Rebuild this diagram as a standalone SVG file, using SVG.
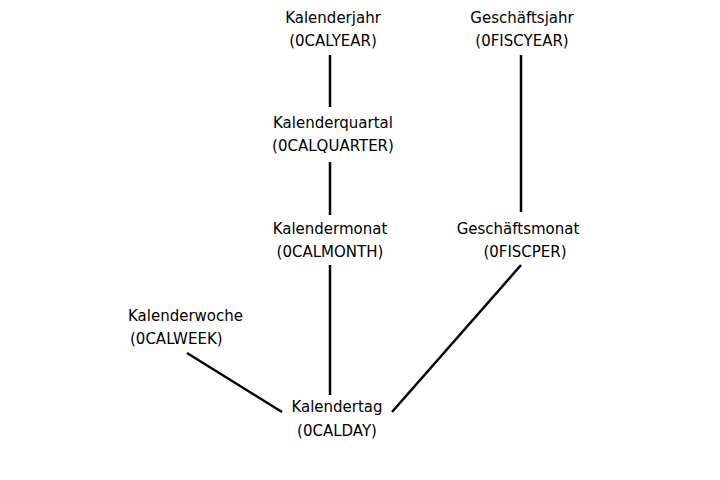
<svg xmlns="http://www.w3.org/2000/svg" width="720" height="480" viewBox="0 0 720 480">
<style>text{font-family:"DejaVu Sans","Liberation Sans",sans-serif;font-size:15px;fill:#000;text-anchor:middle}text.l{text-anchor:start}line{stroke:#000;stroke-width:2.5}</style>
<rect width="720" height="480" fill="#fff"/>
<g id="connectors">
<line x1="330" y1="55" x2="330" y2="107"/>
<line x1="330" y1="162" x2="330" y2="215"/>
<line x1="521" y1="55" x2="521" y2="212"/>
<line x1="330" y1="265" x2="330" y2="395"/>
<line x1="187" y1="353" x2="282" y2="412"/>
<line x1="521" y1="265" x2="392" y2="412"/>
</g>
<g id="kalenderjahr"><text x="333" y="23">Kalenderjahr</text><text x="333" y="46">(0CALYEAR)</text></g>
<g id="geschaeftsjahr"><text x="522" y="23">Geschäftsjahr</text><text x="522" y="46">(0FISCYEAR)</text></g>
<g id="kalenderquartal"><text x="333" y="128">Kalenderquartal</text><text x="333" y="151">(0CALQUARTER)</text></g>
<g id="kalendermonat"><text x="330" y="234">Kalendermonat</text><text x="330" y="257">(0CALMONTH)</text></g>
<g id="geschaeftsmonat"><text x="518" y="234">Geschäftsmonat</text><text x="525" y="257">(0FISCPER)</text></g>
<g id="kalenderwoche"><text class="l" x="128" y="321">Kalenderwoche</text><text class="l" x="130" y="344">(0CALWEEK)</text></g>
<g id="kalendertag"><text x="337" y="412">Kalendertag</text><text x="337" y="436">(0CALDAY)</text></g>
</svg>
